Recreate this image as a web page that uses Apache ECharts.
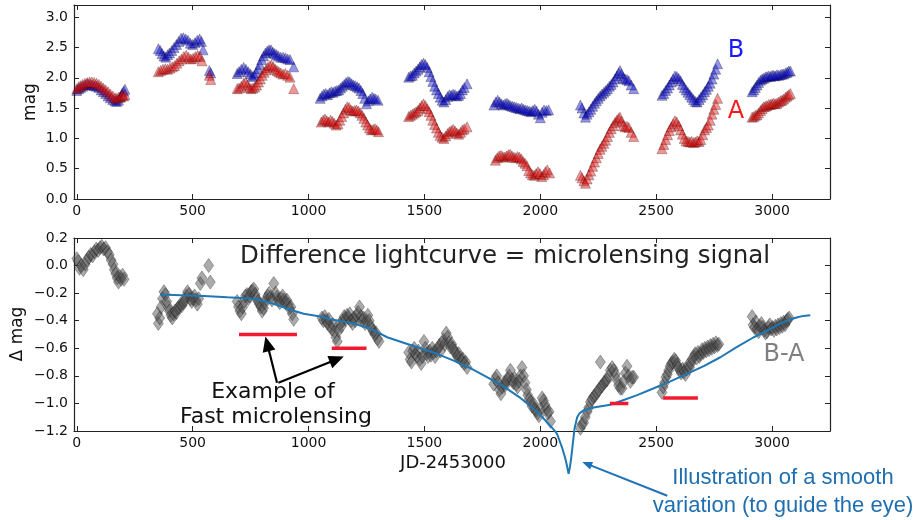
<!DOCTYPE html>
<html><head><meta charset="utf-8">
<script src="https://cdn.jsdelivr.net/npm/echarts@6/dist/echarts.min.js"></script>
<style>html,body{margin:0;padding:0;background:#fff}#c{width:920px;height:520px}</style>
</head><body><div id="c"></div><script>
// ---------- data ----------
const xTicks = [0, 500, 1000, 1500, 2000, 2500, 3000];
const yTicksTop = [0, 0.5, 1.0, 1.5, 2.0, 2.5, 3.0];
const yTicksBottom = [-1.2, -1.0, -0.8, -0.6, -0.4, -0.2, 0.0, 0.2];

// image B magnitudes (blue)
const magB = [
[0,1.79],[8,1.82],[16,1.84],[25,1.86],[35,1.88],[45,1.90],[55,1.89],[65,1.88],[75,1.87],[85,1.86],[95,1.84],[105,1.80],[115,1.77],[125,1.74],[135,1.70],[145,1.67],[155,1.64],[165,1.62],[172,1.61],[180,1.63],[188,1.68],[195,1.74],[202,1.78],[208,1.81],
[352,2.48],[360,2.45],[368,2.40],[376,2.36],[384,2.34],[392,2.38],[400,2.41],[410,2.45],[420,2.50],[430,2.55],[440,2.60],[450,2.65],[460,2.66],[470,2.64],[480,2.62],[490,2.57],[500,2.55],[510,2.58],[520,2.62],[530,2.64],[538,2.60],[545,2.46],[572,2.12],[578,2.08],
[692,2.07],[700,2.10],[710,2.14],[720,2.17],[730,2.14],[740,2.10],[750,2.06],[758,2.02],[766,2.04],[774,2.08],[782,2.15],[790,2.22],[798,2.30],[806,2.36],[814,2.41],[822,2.44],[830,2.46],[838,2.46],[846,2.42],[854,2.40],[862,2.38],[870,2.36],[880,2.34],[890,2.34],[900,2.33],[910,2.31],[920,2.30],[936,2.18],
[1050,1.66],[1058,1.70],[1066,1.73],[1074,1.74],[1082,1.72],[1090,1.75],[1098,1.77],[1106,1.76],[1114,1.78],[1122,1.79],[1130,1.80],[1138,1.83],[1146,1.86],[1154,1.89],[1162,1.92],[1170,1.94],[1178,1.93],[1186,1.90],[1194,1.88],[1202,1.87],[1210,1.85],[1218,1.83],[1226,1.79],[1234,1.74],[1242,1.66],[1250,1.57],[1258,1.62],[1266,1.65],[1274,1.68],[1282,1.66],[1290,1.65],[1300,1.63],
[1432,2.01],[1440,2.03],[1448,2.04],[1456,2.08],[1464,2.11],[1472,2.14],[1480,2.18],[1488,2.22],[1496,2.24],[1504,2.22],[1512,2.17],[1520,2.10],[1528,2.02],[1536,1.94],[1544,1.86],[1552,1.80],[1560,1.74],[1568,1.68],[1576,1.63],[1584,1.60],[1592,1.64],[1600,1.69],[1608,1.72],[1616,1.71],[1624,1.73],[1632,1.72],[1640,1.70],[1648,1.71],[1656,1.74],[1664,1.80],[1672,1.84],[1684,1.90],
[1800,1.55],[1808,1.60],[1816,1.63],[1824,1.60],[1832,1.57],[1840,1.55],[1848,1.57],[1856,1.58],[1864,1.56],[1872,1.54],[1880,1.53],[1888,1.52],[1896,1.51],[1904,1.50],[1912,1.49],[1920,1.50],[1928,1.48],[1936,1.47],[1944,1.46],[1952,1.45],[1960,1.44],[1968,1.46],[1976,1.48],[1984,1.45],[1992,1.40],[2000,1.34],[2008,1.43],[2016,1.47],[2026,1.46],[2036,1.47],
[2173,1.55],[2180,1.50],[2188,1.42],[2195,1.35],[2202,1.40],[2210,1.44],[2218,1.48],[2226,1.53],[2234,1.58],[2242,1.62],[2250,1.66],[2258,1.70],[2266,1.73],[2274,1.76],[2282,1.79],[2290,1.82],[2298,1.86],[2306,1.89],[2314,1.93],[2322,1.98],[2330,2.03],[2338,2.08],[2344,2.12],[2350,2.06],[2358,2.00],[2366,1.98],[2374,1.97],[2382,1.95],[2392,1.88],[2403,1.82],
[2525,1.71],[2533,1.74],[2541,1.79],[2549,1.83],[2557,1.88],[2565,1.93],[2573,1.98],[2581,2.03],[2589,2.02],[2597,1.99],[2605,1.95],[2613,1.89],[2621,1.84],[2629,1.80],[2637,1.76],[2645,1.72],[2653,1.68],[2661,1.64],[2669,1.61],[2677,1.60],[2685,1.64],[2693,1.68],[2701,1.72],[2709,1.77],[2717,1.81],[2725,1.86],[2733,1.91],[2741,1.98],[2749,2.06],[2757,2.14],[2765,2.23],
[2914,1.77],[2921,1.80],[2928,1.84],[2935,1.88],[2942,1.92],[2950,1.96],[2957,1.98],[2964,1.99],[2971,2.01],[2978,2.02],[2986,2.03],[2993,2.02],[3000,2.04],[3007,2.04],[3014,2.03],[3021,2.05],[3028,2.04],[3036,2.05],[3043,2.06],[3050,2.06],[3058,2.08],[3065,2.09],[3072,2.11],[3079,2.11]
];

// image A magnitudes (red)
const magA = [
[0,1.82],[8,1.85],[16,1.87],[25,1.89],[35,1.91],[45,1.92],[55,1.93],[65,1.93],[75,1.92],[85,1.91],[95,1.89],[105,1.86],[115,1.83],[125,1.80],[135,1.77],[145,1.73],[155,1.70],[165,1.67],[172,1.66],[180,1.68],[188,1.69],[195,1.71],[202,1.70],[208,1.72],
[352,2.10],[362,2.12],[372,2.14],[382,2.15],[392,2.14],[402,2.16],[412,2.18],[422,2.20],[432,2.24],[442,2.28],[452,2.31],[462,2.35],[472,2.37],[482,2.34],[492,2.31],[502,2.32],[512,2.35],[522,2.37],[532,2.35],[540,2.28],[572,2.04],[578,1.97],
[692,1.82],[700,1.83],[710,1.86],[720,1.91],[728,1.93],[736,1.88],[744,1.84],[752,1.82],[760,1.83],[768,1.85],[776,1.88],[784,1.93],[792,1.98],[800,2.04],[808,2.09],[816,2.13],[824,2.17],[832,2.20],[840,2.21],[848,2.18],[856,2.14],[864,2.12],[872,2.10],[880,2.08],[890,2.06],[900,2.07],[910,2.04],[920,2.01],[936,1.82],
[1055,1.27],[1063,1.30],[1071,1.32],[1079,1.29],[1087,1.27],[1095,1.30],[1103,1.28],[1111,1.25],[1119,1.22],[1127,1.24],[1135,1.30],[1143,1.36],[1151,1.42],[1159,1.48],[1167,1.52],[1175,1.51],[1183,1.47],[1191,1.45],[1199,1.46],[1207,1.47],[1215,1.45],[1223,1.42],[1231,1.38],[1239,1.33],[1247,1.27],[1255,1.22],[1263,1.17],[1271,1.14],[1279,1.15],[1287,1.16],[1295,1.14],[1302,1.11],
[1432,1.36],[1440,1.38],[1448,1.40],[1456,1.42],[1464,1.44],[1472,1.46],[1480,1.50],[1488,1.54],[1496,1.57],[1504,1.54],[1512,1.49],[1520,1.44],[1528,1.38],[1536,1.30],[1544,1.23],[1552,1.17],[1560,1.10],[1568,1.05],[1576,1.02],[1584,1.00],[1592,1.04],[1600,1.08],[1608,1.11],[1616,1.13],[1624,1.15],[1632,1.12],[1640,1.09],[1648,1.07],[1656,1.10],[1664,1.14],[1672,1.16],[1684,1.19],
[1806,0.64],[1814,0.68],[1822,0.71],[1830,0.72],[1838,0.70],[1846,0.69],[1854,0.71],[1862,0.73],[1870,0.74],[1878,0.71],[1886,0.69],[1894,0.68],[1902,0.70],[1910,0.69],[1918,0.66],[1926,0.62],[1934,0.59],[1942,0.55],[1950,0.47],[1958,0.43],[1966,0.40],[1974,0.39],[1982,0.42],[1990,0.45],[1998,0.42],[2006,0.37],[2014,0.40],[2022,0.45],[2030,0.48],[2040,0.43],
[2173,0.39],[2180,0.35],[2188,0.30],[2195,0.26],[2202,0.33],[2210,0.40],[2218,0.46],[2226,0.54],[2234,0.61],[2242,0.68],[2250,0.75],[2258,0.82],[2266,0.87],[2274,0.92],[2282,0.97],[2290,1.03],[2298,1.10],[2306,1.16],[2314,1.21],[2322,1.26],[2330,1.30],[2338,1.33],[2344,1.35],[2350,1.28],[2358,1.21],[2366,1.19],[2374,1.20],[2382,1.18],[2392,1.10],[2403,1.03],
[2525,0.83],[2533,0.90],[2541,0.98],[2549,1.06],[2557,1.13],[2565,1.19],[2573,1.24],[2581,1.29],[2589,1.27],[2597,1.21],[2605,1.14],[2613,1.07],[2621,1.00],[2629,0.96],[2637,0.95],[2645,0.94],[2653,0.95],[2661,0.93],[2669,0.94],[2677,0.96],[2685,0.95],[2693,0.98],[2701,1.06],[2709,1.14],[2717,1.18],[2725,1.22],[2733,1.30],[2741,1.40],[2749,1.48],[2757,1.56],[2765,1.66],
[2914,1.35],[2921,1.36],[2928,1.38],[2935,1.39],[2942,1.42],[2950,1.46],[2957,1.49],[2964,1.52],[2971,1.53],[2978,1.54],[2986,1.56],[2993,1.56],[3000,1.57],[3007,1.58],[3014,1.57],[3021,1.58],[3028,1.60],[3036,1.62],[3043,1.63],[3050,1.65],[3058,1.68],[3065,1.70],[3072,1.72],[3079,1.74]
];

// difference light curve
const diffBA = [
[0,0.05],[6,0.03],[12,-0.02],[20,0.00],[28,-0.03],[36,0.01],[44,0.04],[52,0.06],[60,0.08],[68,0.07],[76,0.10],[84,0.12],[92,0.11],[100,0.13],[108,0.14],[116,0.12],[124,0.13],[132,0.10],[140,0.08],[148,0.04],[156,0.01],[162,-0.03],[168,-0.06],[174,-0.09],[180,-0.12],[186,-0.08],[192,-0.10],[198,-0.07],[204,-0.10],
[348,-0.35],[352,-0.42],[358,-0.38],[364,-0.30],[370,-0.24],[376,-0.19],[382,-0.21],[388,-0.26],[394,-0.30],[400,-0.33],[406,-0.36],[412,-0.38],[418,-0.35],[424,-0.33],[430,-0.34],[436,-0.31],[442,-0.30],[448,-0.28],[454,-0.29],[460,-0.27],[466,-0.25],[472,-0.22],[478,-0.19],[484,-0.21],[490,-0.24],[496,-0.26],[502,-0.24],[508,-0.22],[514,-0.25],[520,-0.28],[526,-0.24],[533,-0.13],[540,-0.09],[569,0.00],[576,-0.12],
[692,-0.26],[698,-0.30],[704,-0.33],[710,-0.35],[716,-0.30],[722,-0.26],[728,-0.22],[734,-0.21],[740,-0.24],[746,-0.22],[752,-0.19],[758,-0.18],[764,-0.17],[770,-0.21],[776,-0.24],[782,-0.26],[788,-0.28],[794,-0.30],[800,-0.33],[806,-0.31],[812,-0.27],[818,-0.24],[824,-0.22],[830,-0.20],[836,-0.23],[842,-0.25],[850,-0.13],[858,-0.20],[864,-0.23],[870,-0.25],[876,-0.27],[882,-0.24],[888,-0.22],[894,-0.25],[900,-0.27],[906,-0.25],[912,-0.28],[918,-0.31],[924,-0.30],[930,-0.35],[936,-0.39],
[1058,-0.38],[1064,-0.40],[1070,-0.37],[1076,-0.40],[1082,-0.42],[1088,-0.39],[1094,-0.44],[1100,-0.46],[1106,-0.43],[1112,-0.48],[1118,-0.52],[1124,-0.55],[1130,-0.47],[1136,-0.42],[1142,-0.44],[1148,-0.40],[1154,-0.37],[1160,-0.39],[1166,-0.36],[1172,-0.38],[1178,-0.35],[1184,-0.40],[1190,-0.42],[1196,-0.38],[1202,-0.40],[1208,-0.36],[1214,-0.34],[1220,-0.30],[1226,-0.37],[1232,-0.40],[1238,-0.38],[1244,-0.42],[1250,-0.40],[1256,-0.36],[1262,-0.40],[1268,-0.44],[1274,-0.46],[1280,-0.48],[1286,-0.50],[1292,-0.49],[1298,-0.53],[1304,-0.55],
[1432,-0.63],[1438,-0.68],[1444,-0.70],[1450,-0.62],[1456,-0.60],[1462,-0.64],[1468,-0.66],[1474,-0.62],[1480,-0.68],[1486,-0.71],[1492,-0.66],[1498,-0.55],[1504,-0.60],[1510,-0.64],[1516,-0.66],[1522,-0.62],[1528,-0.65],[1534,-0.60],[1540,-0.63],[1546,-0.66],[1552,-0.62],[1558,-0.60],[1564,-0.58],[1570,-0.62],[1576,-0.56],[1582,-0.54],[1588,-0.57],[1594,-0.49],[1600,-0.52],[1606,-0.56],[1612,-0.59],[1618,-0.57],[1624,-0.60],[1630,-0.62],[1636,-0.64],[1642,-0.66],[1648,-0.64],[1654,-0.67],[1660,-0.69],[1666,-0.68],[1672,-0.71],[1678,-0.70],[1684,-0.74],
[1799,-0.86],[1806,-0.82],[1812,-0.80],[1818,-0.85],[1824,-0.90],[1830,-0.93],[1836,-0.88],[1842,-0.85],[1848,-0.87],[1854,-0.84],[1860,-0.82],[1866,-0.80],[1871,-0.76],[1878,-0.83],[1884,-0.85],[1890,-0.82],[1896,-0.86],[1902,-0.88],[1908,-0.84],[1914,-0.80],[1921,-0.74],[1928,-0.80],[1934,-0.85],[1940,-0.90],[1946,-0.94],[1952,-0.97],[1958,-0.99],[1964,-1.02],[1970,-1.00],[1976,-1.04],[1982,-1.05],[1988,-1.07],[1994,-1.09],[2000,-1.04],[2008,-0.96],[2014,-0.98],[2020,-1.01],[2026,-1.04],[2032,-1.07],[2038,-1.06],[2044,-1.13],
[2173,-1.18],[2180,-1.15],[2187,-1.14],[2194,-1.10],[2202,-1.06],[2209,-1.03],[2216,-0.99],[2223,-0.97],[2230,-0.95],[2238,-0.94],[2245,-0.92],[2252,-0.90],[2259,-0.70],[2262,-0.88],[2268,-0.87],[2274,-0.85],[2281,-0.84],[2288,-0.83],[2295,-0.80],[2302,-0.76],[2310,-0.74],[2317,-0.76],[2324,-0.79],[2331,-0.83],[2338,-0.87],[2345,-0.89],[2353,-0.89],[2360,-0.84],[2367,-0.78],[2374,-0.73],[2381,-0.80],[2389,-0.84],[2396,-0.81],[2403,-0.81],
[2525,-0.92],[2530,-0.88],[2536,-0.85],[2542,-0.81],[2548,-0.79],[2554,-0.76],[2560,-0.73],[2566,-0.71],[2572,-0.70],[2578,-0.68],[2584,-0.69],[2590,-0.72],[2596,-0.74],[2602,-0.76],[2608,-0.78],[2614,-0.75],[2620,-0.77],[2626,-0.79],[2632,-0.75],[2638,-0.72],[2644,-0.74],[2650,-0.71],[2656,-0.68],[2662,-0.66],[2668,-0.64],[2674,-0.67],[2680,-0.63],[2686,-0.66],[2692,-0.64],[2698,-0.61],[2704,-0.63],[2710,-0.60],[2716,-0.62],[2722,-0.59],[2728,-0.61],[2734,-0.58],[2740,-0.60],[2746,-0.57],[2752,-0.59],[2758,-0.56],[2764,-0.58],[2770,-0.57],
[2914,-0.37],[2918,-0.43],[2924,-0.45],[2930,-0.41],[2936,-0.46],[2942,-0.48],[2948,-0.44],[2954,-0.42],[2960,-0.45],[2966,-0.47],[2972,-0.49],[2978,-0.48],[2984,-0.45],[2990,-0.43],[2996,-0.46],[3002,-0.45],[3008,-0.47],[3014,-0.44],[3020,-0.46],[3026,-0.43],[3032,-0.45],[3038,-0.42],[3044,-0.44],[3050,-0.41],[3056,-0.43],[3062,-0.40],[3068,-0.39],[3074,-0.38]
];

// smooth guide curve
const smoothCurve = [
[361,-0.21],[450,-0.215],[548,-0.22],[650,-0.23],[764,-0.24],[836,-0.27],[922,-0.32],[979,-0.35],[1051,-0.37],[1094,-0.39],[1195,-0.42],[1270,-0.46],[1339,-0.52],[1410,-0.56],[1483,-0.60],[1555,-0.64],[1626,-0.69],[1700,-0.745],[1770,-0.81],[1840,-0.875],[1914,-0.96],[1950,-1.01],[1986,-1.06],[2020,-1.12],[2058,-1.19],[2072,-1.22],[2094,-1.32],[2108,-1.40],[2116,-1.46],[2122,-1.51],[2128,-1.46],[2133,-1.40],[2141,-1.28],[2148,-1.18],[2159,-1.10],[2170,-1.07],[2187,-1.05],[2230,-1.03],[2302,-1.01],[2360,-0.975],[2418,-0.94],[2490,-0.89],[2561,-0.84],[2633,-0.785],[2705,-0.73],[2777,-0.665],[2849,-0.59],[2921,-0.52],[2993,-0.46],[3036,-0.42],[3079,-0.39],[3110,-0.375],[3136,-0.365],[3165,-0.36]
];

// fast microlensing examples: [start, end, level]
const fastBars = [[700,950,-0.5],[1100,1250,-0.6],[2300,2380,-1.0],[2530,2680,-0.96]];

// annotation arrows in data coords of lower panel: [tailX, tailY, tipX, tipY]
const blackArrows = [[864,-0.85,814,-0.515],[870,-0.85,1152,-0.66]];
const blueArrow = [2548,-1.67,2181,-1.425];

// ---------- chart ----------
const chart = echarts.init(document.getElementById('c'), null, {renderer:'canvas'});
const FONT = 'DejaVu Sans';
const frame = {show:true, onZero:false, lineStyle:{color:'#222', width:1.2}};
function xAx(grid, pos, labels){
  return {type:'value', gridIndex:grid, position:pos, min:-12, max:3250,
    axisLine:frame,
    axisTick:{show:true, inside:true, length:5, customValues:xTicks, lineStyle:{color:'#222'}},
    axisLabel:{show:labels, customValues:xTicks, margin:5, fontFamily:FONT, fontSize:14, color:'#111', formatter:v => String(Math.round(v))},
    splitLine:{show:false}};
}
function yAx(grid, pos, labels, min, max, ticks, fmt){
  return {type:'value', gridIndex:grid, position:pos, min:min, max:max,
    axisLine:frame,
    axisTick:{show:true, inside:true, length:5, customValues:ticks, lineStyle:{color:'#222'}},
    axisLabel:{show:labels, customValues:ticks, margin:6, fontFamily:FONT, fontSize:14, color:'#111', formatter:fmt},
    splitLine:{show:false}};
}
const fmtTop = v => v.toFixed(1);
const fmtBot = v => { const r = Math.round(v*10)/10; return (r < 0 ? '\u2212' : '') + Math.abs(r).toFixed(1); };

const series = [
  {type:'scatter', xAxisIndex:0, yAxisIndex:0, data:magB, symbol:'triangle', symbolSize:10,
   itemStyle:{color:'rgba(10,10,200,0.55)', borderColor:'rgba(0,0,40,0.6)', borderWidth:0.6}},
  {type:'scatter', xAxisIndex:0, yAxisIndex:0, data:magA, symbol:'triangle', symbolSize:10,
   itemStyle:{color:'rgba(220,15,15,0.55)', borderColor:'rgba(60,0,0,0.6)', borderWidth:0.6}},
  {type:'scatter', xAxisIndex:2, yAxisIndex:2, data:diffBA, symbol:'diamond', symbolSize:[10,14],
   itemStyle:{color:'rgba(80,80,80,0.6)', borderColor:'rgba(20,20,20,0.65)', borderWidth:0.6}},
  {type:'line', xAxisIndex:2, yAxisIndex:2, data:smoothCurve, symbol:'none', clip:false, z:5,
   lineStyle:{color:'#1f77b4', width:2}}
];
fastBars.forEach(b => series.push({type:'line', xAxisIndex:2, yAxisIndex:2, symbol:'none', z:6,
  data:[[b[0],b[2]],[b[1],b[2]]], lineStyle:{color:'#f31a30', width:3.5}}));

chart.setOption({
  animation:false,
  backgroundColor:'#fff',
  grid:[{left:74, top:5, width:756, height:194}, {left:74, top:238, width:756, height:193}],
  xAxis:[xAx(0,'bottom',true), xAx(0,'top',false), xAx(1,'bottom',true), xAx(1,'top',false)],
  yAxis:[yAx(0,'left',true,0,3.2,yTicksTop,fmtTop), yAx(0,'right',false,0,3.2,yTicksTop,fmtTop),
         yAx(1,'left',true,-1.2,0.2,yTicksBottom,fmtBot), yAx(1,'right',false,-1.2,0.2,yTicksBottom,fmtBot)],
  series:series
});

function P(x,y){ return chart.convertToPixel({seriesIndex:2}, [x,y]); }
function arrow(a, color, lw, hl, hw){
  const t = P(a[0],a[1]), h = P(a[2],a[3]);
  const dx = h[0]-t[0], dy = h[1]-t[1], L = Math.hypot(dx,dy), ux = dx/L, uy = dy/L;
  const bx = h[0]-ux*hl, by = h[1]-uy*hl;
  return [
    {type:'line', z:50, shape:{x1:t[0], y1:t[1], x2:bx+ux*1, y2:by+uy*1}, style:{stroke:color, lineWidth:lw}},
    {type:'polygon', z:50, shape:{points:[[h[0],h[1]],[bx-uy*hw/2,by+ux*hw/2],[bx+uy*hw/2,by-ux*hw/2]]}, style:{fill:color}}
  ];
}
function txt(s, x, y, size, color, opts){
  opts = opts || {};
  return {type:'text', z:60, x:x, y:y, rotation:opts.rot||0,
    style:{text:s, fontFamily:opts.family||FONT, fontSize:size, fill:color,
           align:opts.align||'center', verticalAlign:'middle'}};
}
let g = [];
blackArrows.forEach(a => { g = g.concat(arrow(a, '#000', 2.2, 15, 13)); });
g = g.concat(arrow(blueArrow, '#1f72b8', 2, 10, 8));
g.push(txt('Difference lightcurve = microlensing signal', 240, 257, 24.5, '#222', {align:'left'}));
g.push(txt('Example of', 273, 392, 22, '#111'));
g.push(txt('Fast microlensing', 276, 417, 22, '#111'));
g.push(txt('B', 736, 51, 24, '#1a1aff'));
g.push(txt('A', 736, 112, 24, '#ff1a1a'));
g.push(txt('B-A', 784, 355, 24, '#808080'));
g.push(txt('Illustration of a smooth', 783, 478, 22, '#1f6fb0', {family:'Liberation Sans'}));
g.push(txt('variation (to guide the eye)', 783, 506, 22, '#1f6fb0', {family:'Liberation Sans'}));
g.push(txt('mag', 31, 102, 17, '#111', {rot:Math.PI/2}));
g.push(txt('\u0394 mag', 18, 334, 17, '#111', {rot:Math.PI/2}));
g.push(txt('JD-2453000', 453, 463, 18, '#111'));
chart.setOption({graphic:g});
</script></body></html>
